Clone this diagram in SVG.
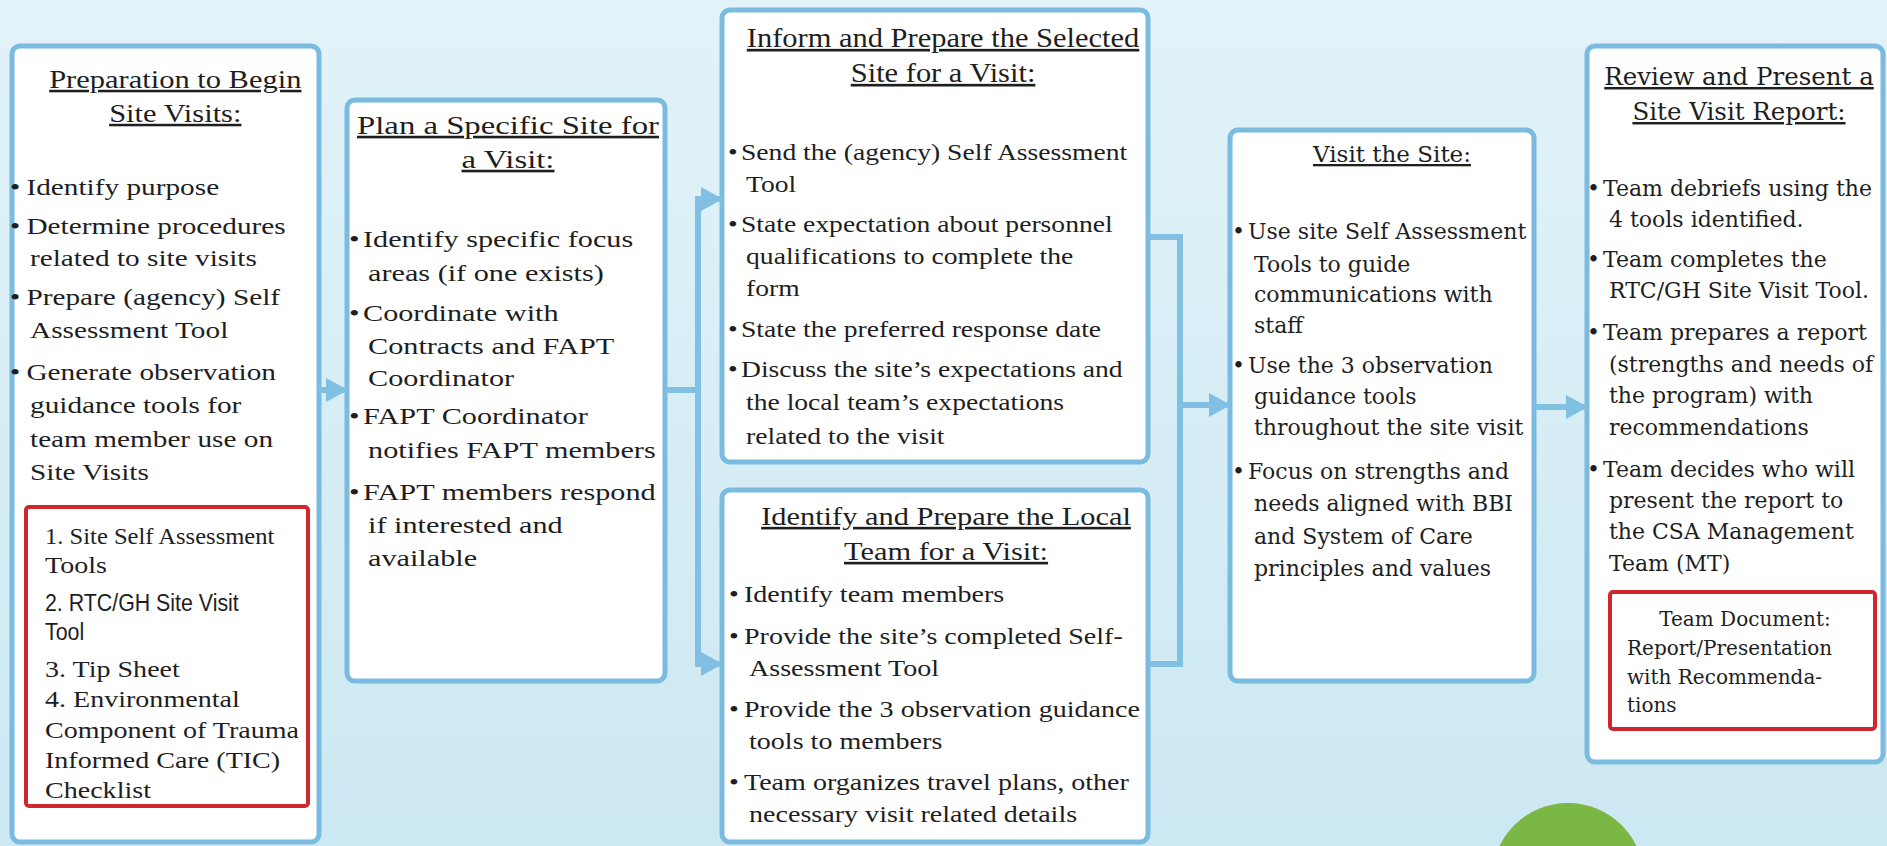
<svg xmlns="http://www.w3.org/2000/svg" width="1887" height="846" viewBox="0 0 1887 846">
  <defs>
    <linearGradient id="sky" x1="0" y1="0" x2="0" y2="1">
      <stop offset="0" stop-color="#e2f3f9"/>
      <stop offset="1" stop-color="#cce8f2"/>
    </linearGradient>
    <marker id="arrow" markerUnits="userSpaceOnUse" markerWidth="22" markerHeight="24" refX="21" refY="12" orient="auto-start-reverse">
      <path d="M0,0 L22,12 L0,24 Z" fill="#82c0e3"/>
    </marker>
    <style>
      .box { fill: #ffffff; stroke: #7bbbe0; stroke-width: 5; }
      .doc { fill: #ffffff; stroke: #d0262d; stroke-width: 4; }
      .conn { fill: none; stroke: #82c0e3; stroke-width: 6; }
      .t { font-family: "Liberation Serif", "Times New Roman", serif; font-size: 24px; fill: #1e1e1e; }
      .h { font-size: 26px; text-decoration: underline; text-anchor: middle; }
      .sm { font-size: 23px; }
      .s { font-family: "Liberation Sans", Arial, sans-serif; font-size: 24px; fill: #1e1e1e; }
      .d { font-family: "DejaVu Serif", serif; font-size: 22px; fill: #1e1e1e; }
      .dh { text-decoration: underline; text-anchor: middle; }
      .dm { font-size: 20px; }
    </style>
  </defs>

  <!-- backdrop -->
  <rect x="0" y="0" width="1887" height="846" fill="url(#sky)"/>
  <circle cx="1568" cy="879" r="76" fill="#7ab744"/>

  <!-- step 1 -->
  <g id="prep">
    <rect class="box" x="12" y="46" width="307" height="796" rx="8"/>
    <rect class="doc" x="26" y="507" width="282" height="299" rx="3"/>
    <g class="t" transform="matrix(1.22 0 0 1 10 0)">
      <text class="h" x="135.5" y="88" style="font-size:25px">Preparation to Begin</text>
      <text class="h" x="135.5" y="122" style="font-size:25px">Site Visits:</text>
      <text x="0" y="195">•</text>
      <text x="13.5" y="195">Identify purpose</text>
      <text x="0" y="234">•</text>
      <text x="13.5" y="234">Determine procedures</text>
      <text x="16.4" y="266">related to site visits</text>
      <text x="0" y="305">•</text>
      <text x="13.5" y="305">Prepare (agency) Self</text>
      <text x="16.4" y="338">Assessment Tool</text>
      <text x="0" y="380">•</text>
      <text x="13.5" y="380">Generate observation</text>
      <text x="16.4" y="413">guidance tools  for</text>
      <text x="16.4" y="447">team member use on</text>
      <text x="16.4" y="480">Site Visits</text>
      <text class="sm" x="28.7" y="544" textLength="188" lengthAdjust="spacingAndGlyphs">1. Site Self Assessment</text>
      <text class="sm" x="28.7" y="573">Tools</text>
      <text class="sm" x="28.7" y="677">3. Tip Sheet</text>
      <text class="sm" x="28.7" y="707">4. Environmental</text>
      <text class="sm" x="28.7" y="738">Component of Trauma</text>
      <text class="sm" x="28.7" y="768">Informed Care (TIC)</text>
      <text class="sm" x="28.7" y="798">Checklist</text>
    </g>
    <g class="s" transform="matrix(0.89 0 0 1 45 0)">
      <text x="0" y="611">2. RTC/GH Site Visit</text>
      <text x="0" y="640">Tool</text>
    </g>
  </g>

  <!-- step 2 -->
  <g id="plan">
    <rect class="box" x="347" y="100" width="318" height="581" rx="8"/>
    <g class="t" transform="matrix(1.26 0 0 1 349 0)">
      <text class="h" x="126.2" y="134">Plan a Specific Site for</text>
      <text class="h" x="126.2" y="168">a Visit:</text>
      <text x="0" y="247">•</text>
      <text x="11.1" y="247">Identify specific focus</text>
      <text x="15.1" y="281">areas (if one exists)</text>
      <text x="0" y="321">•</text>
      <text x="11.1" y="321">Coordinate with</text>
      <text x="15.1" y="354">Contracts and FAPT</text>
      <text x="15.1" y="386">Coordinator</text>
      <text x="0" y="424">•</text>
      <text x="11.1" y="424">FAPT Coordinator</text>
      <text x="15.1" y="458">notifies FAPT members</text>
      <text x="0" y="500">•</text>
      <text x="11.1" y="500">FAPT members respond</text>
      <text x="15.1" y="533">if interested and</text>
      <text x="15.1" y="566">available</text>
    </g>
  </g>

  <!-- step 3a -->
  <g id="inform">
    <rect class="box" x="722" y="10" width="426" height="452" rx="8"/>
    <g class="t" transform="matrix(1.15 0 0 1 728 0)">
      <text class="h" x="187" y="47" style="font-size:26.5px">Inform and Prepare the Selected</text>
      <text class="h" x="187" y="82" style="font-size:26.5px">Site for a Visit:</text>
      <text x="0" y="160">•</text>
      <text x="11.3" y="160">Send the (agency) Self Assessment</text>
      <text x="15.7" y="192">Tool</text>
      <text x="0" y="232">•</text>
      <text x="11.3" y="232">State expectation about personnel</text>
      <text x="15.7" y="264">qualifications to complete the</text>
      <text x="15.7" y="296">form</text>
      <text x="0" y="337">•</text>
      <text x="11.3" y="337">State the preferred response date</text>
      <text x="0" y="377">•</text>
      <text x="11.3" y="377">Discuss the site’s expectations and</text>
      <text x="15.7" y="410">the local team’s expectations</text>
      <text x="15.7" y="444">related to the visit</text>
    </g>
  </g>

  <!-- step 3b -->
  <g id="team">
    <rect class="box" x="722" y="490" width="426" height="352" rx="8"/>
    <g class="t" transform="matrix(1.17 0 0 1 729 0)">
      <text class="h" x="185.5" y="525">Identify and Prepare the Local</text>
      <text class="h" x="185.5" y="560">Team for a Visit:</text>
      <text x="0" y="602">•</text>
      <text x="12.8" y="602">Identify team members</text>
      <text x="0" y="644">•</text>
      <text x="12.8" y="644">Provide the site’s completed Self-</text>
      <text x="17.1" y="676">Assessment Tool</text>
      <text x="0" y="717">•</text>
      <text x="12.8" y="717">Provide the 3 observation guidance</text>
      <text x="17.1" y="749">tools to members</text>
      <text x="0" y="790">•</text>
      <text x="12.8" y="790">Team organizes travel plans, other</text>
      <text x="17.1" y="822">necessary visit related details</text>
    </g>
  </g>

  <!-- step 4 -->
  <g id="visit" class="d">
    <rect class="box" x="1230" y="130" width="304" height="551" rx="8"/>
    <text class="dh" x="1392" y="162" style="font-size:23px">Visit the Site:</text>
    <text x="1232" y="239">•</text>
    <text x="1248" y="239">Use site Self Assessment</text>
    <text x="1254" y="272">Tools to guide</text>
    <text x="1254" y="302">communications with</text>
    <text x="1254" y="333">staff</text>
    <text x="1232" y="373">•</text>
    <text x="1248" y="373">Use the 3 observation</text>
    <text x="1254" y="404">guidance tools</text>
    <text x="1254" y="435">throughout the site visit</text>
    <text x="1232" y="479">•</text>
    <text x="1248" y="479">Focus on strengths and</text>
    <text x="1254" y="511">needs aligned with BBI</text>
    <text x="1254" y="544">and System of Care</text>
    <text x="1254" y="576">principles and values</text>
  </g>

  <!-- step 5 -->
  <g id="report" class="d">
    <rect class="box" x="1587" y="46" width="296" height="716" rx="8"/>
    <text class="dh" x="1739" y="85" style="font-size:24.5px">Review and Present a</text>
    <text class="dh" x="1739" y="120" style="font-size:24.5px">Site Visit Report:</text>
    <text x="1587" y="196">•</text>
    <text x="1603" y="196">Team debriefs using the</text>
    <text x="1609" y="227">4 tools identified.</text>
    <text x="1587" y="267">•</text>
    <text x="1603" y="267">Team completes the</text>
    <text x="1609" y="298">RTC/GH Site Visit Tool.</text>
    <text x="1587" y="340">•</text>
    <text x="1603" y="340">Team prepares a report</text>
    <text x="1609" y="372">(strengths and needs of</text>
    <text x="1609" y="403">the program) with</text>
    <text x="1609" y="435">recommendations</text>
    <text x="1587" y="477">•</text>
    <text x="1603" y="477">Team decides who will</text>
    <text x="1609" y="508">present the report to</text>
    <text x="1609" y="539">the CSA Management</text>
    <text x="1609" y="571">Team (MT)</text>
    <rect class="doc" x="1610" y="592" width="265" height="137" rx="3"/>
    <text class="dm" x="1745" y="626" text-anchor="middle">Team Document:</text>
    <text class="dm" x="1627" y="655">Report/Presentation</text>
    <text class="dm" x="1627" y="684">with Recommenda-</text>
    <text class="dm" x="1627" y="712">tions</text>
  </g>

  <!-- flow lines -->
  <g id="connectors" class="conn">
    <path d="M319,390 H347" marker-end="url(#arrow)"/>
    <path d="M665,390 H698"/>
    <path d="M722,199 H698 V664 H722" marker-start="url(#arrow)" marker-end="url(#arrow)"/>
    <path d="M1148,237 H1180 V664 H1148"/>
    <path d="M1180,405 H1230" marker-end="url(#arrow)"/>
    <path d="M1534,407 H1587" marker-end="url(#arrow)"/>
  </g>
</svg>
